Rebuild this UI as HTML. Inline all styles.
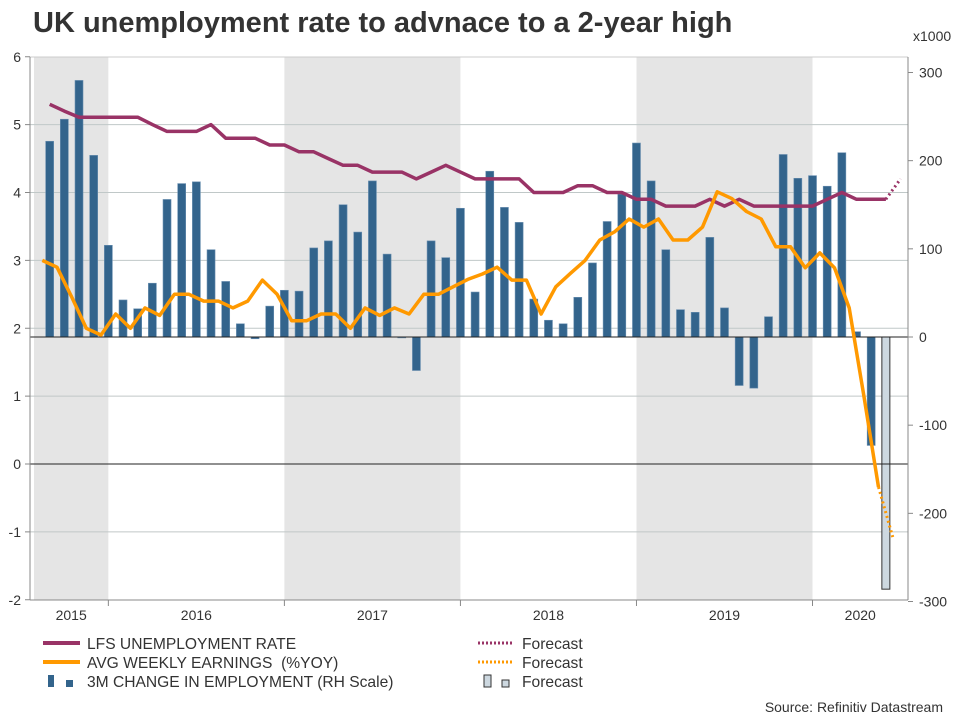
<!DOCTYPE html>
<html><head><meta charset="utf-8"><style>
body{margin:0;background:#fff;font-family:"Liberation Sans",Arial,sans-serif;}
svg text{font-family:"Liberation Sans",Arial,sans-serif;}
</style></head><body>
<svg id="chart" width="960" height="720" xmlns="http://www.w3.org/2000/svg">
<text x="33" y="32" font-size="29" font-weight="bold" fill="#333">UK unemployment rate to advnace to a 2-year high</text>
<g id="bands"></g><g id="grid"></g><g id="bars"></g><g id="lines"></g><g id="axes"></g><g id="legend"></g>
<text x="943" y="712" font-size="14" fill="#333" text-anchor="end">Source: Refinitiv Datastream</text>
</svg>
<script>
const years=["2015","2016","2017","2018","2019","2020"];
const yearStart=[-7,5,17,29,41,53];
const leftTicks=[6,5,4,3,2,1,0,-1,-2];
const rightTicks=[300,200,100,0,-100,-200,-300];
const employment=[222,247,291,206,104,42,32,61,156,174,176,99,63,15,-2,35,53,52,101,109,150,119,177,94,-1,-38,109,90,146,51,188,147,130,43,19,15,45,84,131,162,220,177,99,31,28,113,33,-55,-58,23,207,180,183,171,209,6,-123];
const employmentForecast=[-286];
const unemployment=[5.3,5.2,5.11,5.11,5.11,5.11,5.11,5.0,4.9,4.9,4.9,5.0,4.8,4.8,4.8,4.7,4.7,4.6,4.6,4.5,4.4,4.4,4.3,4.3,4.3,4.2,4.3,4.4,4.3,4.2,4.2,4.2,4.2,4.0,4.0,4.0,4.1,4.1,4.0,4.0,3.9,3.9,3.8,3.8,3.8,3.9,3.8,3.9,3.8,3.8,3.8,3.8,3.8,3.9,4.0,3.9,3.9,3.9];
const unemploymentForecast=[4.2];
const earnings=[3.0,2.9,2.46,2.0,1.9,2.21,2.0,2.3,2.19,2.5,2.5,2.4,2.4,2.3,2.4,2.71,2.5,2.11,2.11,2.21,2.21,2.0,2.3,2.19,2.3,2.21,2.5,2.5,2.61,2.72,2.8,2.9,2.71,2.71,2.21,2.61,2.81,3.0,3.3,3.42,3.61,3.49,3.61,3.3,3.3,3.49,4.01,3.91,3.72,3.61,3.2,3.2,2.89,3.11,2.89,2.3,1.0,-0.34];
const earningsForecast=[-1.1];

const NS="http://www.w3.org/2000/svg";
const X0=35,MW=14.67,PL=30,PR=908,PT=57,PB=600;
const xS=t=>X0+MW*t;
const yL=v=>464-67.875*v;
const yR=v=>337-0.8817*v;
function mk(p,tag,at){const e=document.createElementNS(NS,tag);for(const k in at)e.setAttribute(k,at[k]);p.appendChild(e);return e;}
const bands=document.getElementById('bands'),grid=document.getElementById('grid'),barsG=document.getElementById('bars'),linesG=document.getElementById('lines'),axes=document.getElementById('axes'),leg=document.getElementById('legend');
years.forEach((y,i)=>{
  const a=i===0?34:xS(yearStart[i]), b=i===years.length-1?PR:xS(yearStart[i+1]);
  if(i%2===0){const r=mk(bands,'rect',{x:a,y:PT,width:b-a,height:PB-PT,fill:'#e5e5e5'});
  
  }
  const t=mk(axes,'text',{x:(a+b)/2,y:620,'font-size':14,fill:'#333','text-anchor':'middle'});t.textContent=y;
  
  
  if(i>0){const l=mk(axes,'line',{x1:a,x2:a,y1:PB,y2:PB+6,stroke:'#888'});
  
  }
});
mk(grid,'line',{x1:PL,x2:PR,y1:PT,y2:PT,stroke:'#ccc'});
leftTicks.forEach(v=>{
  const y=yL(v);
  if(v!==6&&v!==-2&&v!==0){const g=mk(grid,'line',{x1:PL,x2:PR,y1:y,y2:y,stroke:'#c0c8c8'});
  
  }
  mk(axes,'line',{x1:PL-5,x2:PL,y1:y,y2:y,stroke:'#888'});
  const t=mk(axes,'text',{x:PL-9,y:y+5,'font-size':14,fill:'#333','text-anchor':'end'});t.textContent=v;
  
  
});
rightTicks.forEach(v=>{
  const y=yR(v);
  mk(axes,'line',{x1:PR,x2:PR+5,y1:y,y2:y,stroke:'#888'});
  const t=mk(axes,'text',{x:PR+11,y:y+5,'font-size':14,fill:'#333'});t.textContent=v;
  
  
});
const xt=mk(axes,'text',{x:913,y:41,'font-size':14,fill:'#333'});xt.textContent='x1000';


mk(axes,'line',{x1:PL,x2:PL,y1:PT,y2:PB,stroke:'#888'});
mk(axes,'line',{x1:PR,x2:PR,y1:PT,y2:PB,stroke:'#888'});
mk(axes,'line',{x1:PL,x2:PR,y1:PB,y2:PB,stroke:'#888'});
const BW=8;
employment.forEach((v,i)=>{
  const x=xS(i+1),y0=yR(0),y1=yR(v);
  const r=mk(barsG,'rect',{x:x-BW/2,y:Math.min(y0,y1),width:BW,height:Math.abs(y1-y0),fill:'#33648c',stroke:'#6a8fb0','stroke-width':0.6});
  
  
});
employmentForecast.forEach((v,j)=>{
  const i=employment.length+j,x=xS(i+1),y0=yR(0),y1=yR(v);
  const r=mk(barsG,'rect',{x:x-BW/2,y:Math.min(y0,y1),width:BW,height:Math.abs(y1-y0),fill:'#cdd8e0',stroke:'#333','stroke-width':1});
  
  
});
mk(linesG,'line',{x1:PL,x2:PR,y1:yR(0),y2:yR(0),stroke:'#222','stroke-width':1});
mk(linesG,'line',{x1:PL,x2:PR,y1:yL(0),y2:yL(0),stroke:'#222','stroke-width':1});
function path(arr,off,yf){return arr.map((v,i)=>(i?'L':'M')+xS(i+off).toFixed(1)+','+yf(v).toFixed(1)).join(' ');}
function fpath(arr,fc,off,yf){const n=arr.length-1;return 'M'+xS(n+off)+','+yf(arr[n])+' '+fc.map((v,j)=>'L'+xS(n+1+j+off)+','+yf(v)).join(' ');}
let p=mk(linesG,'path',{d:fpath(unemployment,unemploymentForecast,1,yL),fill:'none',stroke:'#993366','stroke-width':3,'stroke-dasharray':'2,3'});


p=mk(linesG,'path',{d:path(unemployment,1,yL),fill:'none',stroke:'#993366','stroke-width':3.5,'stroke-linejoin':'round'});


p=mk(linesG,'path',{d:fpath(earnings,earningsForecast,0.5,yL),fill:'none',stroke:'#ff9900','stroke-width':3,'stroke-dasharray':'2,3'});


p=mk(linesG,'path',{d:path(earnings,0.5,yL),fill:'none',stroke:'#ff9900','stroke-width':3.5,'stroke-linejoin':'round'});


const LT=[['LFS UNEMPLOYMENT RATE','#993366',643],['AVG WEEKLY EARNINGS\u00a0\u00a0(%YOY)','#ff9900',662]];
LT.forEach(([t,c,y])=>{
  let l=mk(leg,'line',{x1:43,x2:80,y1:y,y2:y,stroke:c,'stroke-width':4});
  
  
  let tx=mk(leg,'text',{x:87,y:y+6,'font-size':15.6,fill:'#333'});tx.textContent=t;
  
  
  l=mk(leg,'line',{x1:478,x2:512,y1:y,y2:y,stroke:c,'stroke-width':3,'stroke-dasharray':'2,2'});
  
  
  tx=mk(leg,'text',{x:522,y:y+6,'font-size':15.6,fill:'#333'});tx.textContent='Forecast';
  
  
});
mk(leg,'rect',{x:48,y:675,width:6,height:12,fill:'#33648c'});
mk(leg,'rect',{x:66,y:680,width:7,height:7,fill:'#33648c'});
let tx=mk(leg,'text',{x:87,y:687,'font-size':15.6,fill:'#333'});tx.textContent='3M CHANGE IN EMPLOYMENT (RH Scale)';


mk(leg,'rect',{x:484,y:675,width:7,height:12,fill:'#cdd8e0',stroke:'#333'});
mk(leg,'rect',{x:502,y:680,width:7,height:7,fill:'#cdd8e0',stroke:'#333'});
tx=mk(leg,'text',{x:522,y:687,'font-size':15.6,fill:'#333'});tx.textContent='Forecast';


</script>
</body></html>
